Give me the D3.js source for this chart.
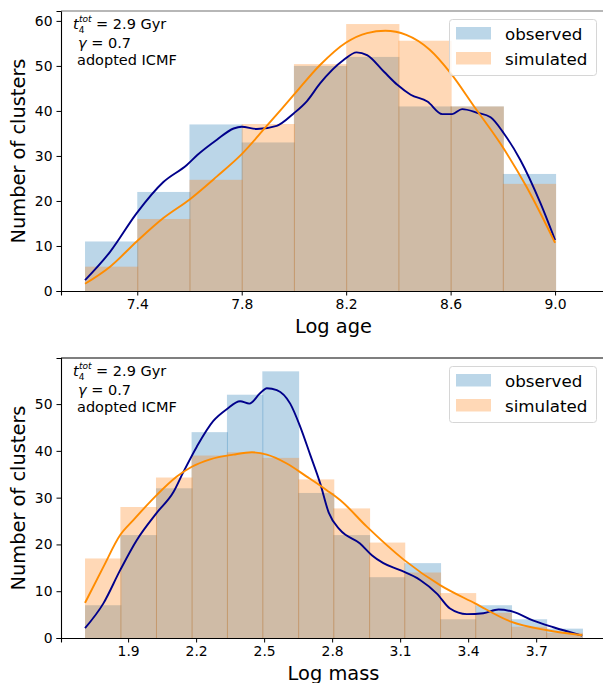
<!DOCTYPE html>
<html>
<head>
<meta charset="utf-8">
<script src="https://cdn.jsdelivr.net/npm/d3@7"></script>
<style>
  body { margin: 0; background: #fff; }
  svg { display: block; font-family: "DejaVu Sans", sans-serif; }
</style>
</head>
<body>
<svg id="chart"></svg>
<script>
// ---- top panel: log age ----
var ageEdges = [7.2, 7.4, 7.6, 7.8, 8.0, 8.2, 8.4, 8.6, 8.8, 9.0]
var ageObserved = [11, 22, 37, 33, 50, 52, 41, 41, 26]
var ageSimulated = [5.4, 16, 24.7, 37.1, 50.4, 59.3, 55.6, 41, 23.8]
var ageKdeObsX = [7.2, 7.296, 7.398, 7.5, 7.59, 7.63, 7.705, 7.769, 7.8, 7.858, 7.934, 8.0, 8.05, 8.1, 8.19, 8.24, 8.28, 8.345, 8.396, 8.447, 8.511, 8.568, 8.606, 8.644, 8.702, 8.753, 8.804, 8.867, 8.944, 9.0]
var ageKdeObsY = [2.4, 8.7, 17.3, 24.2, 28, 30.2, 33.6, 36.1, 36.5, 36, 36.7, 39.5, 42.2, 46.1, 51.3, 53, 52.4, 48.7, 45.8, 43.6, 42.1, 39.3, 39.3, 40.4, 39.6, 38.6, 35, 29.1, 19.5, 11.3]
var ageKdeSimX = [7.2, 7.296, 7.398, 7.5, 7.602, 7.704, 7.8, 7.895, 8.0, 8.1, 8.2, 8.28, 8.35, 8.43, 8.52, 8.6, 8.69, 8.79, 8.89, 9.0]
var ageKdeSimY = [1.6, 5.4, 11, 16.2, 20.4, 25.4, 30.4, 36.6, 43.6, 50.2, 55.2, 57.3, 57.8, 56.9, 53.6, 48.4, 41, 32.8, 23.2, 10.7]
var ageTicks = [7.4, 7.8, 8.2, 8.6, 9.0]
var ageYTicks = [0, 10, 20, 30, 40, 50, 60]

// ---- bottom panel: log mass ----
var massEdges = [1.710, 1.866, 2.023, 2.180, 2.336, 2.492, 2.650, 2.805, 2.963, 3.118, 3.276, 3.431, 3.589, 3.744, 3.902]
var massObserved = [7, 22, 32, 44, 52, 57, 31, 22, 13, 16, 4, 7, 4, 2]
var massSimulated = [17, 28, 34.3, 39, 39.7, 38.5, 33.9, 27.7, 20.4, 14, 9.6, 5.4, 2.4, 1.1]
var massKdeObsX = [1.71, 1.791, 1.865, 1.938, 2.027, 2.1, 2.144, 2.203, 2.276, 2.335, 2.394, 2.435, 2.482, 2.512, 2.556, 2.615, 2.659, 2.703, 2.747, 2.785, 2.835, 2.923, 2.975, 3.026, 3.1, 3.188, 3.262, 3.32, 3.394, 3.467, 3.534, 3.6, 3.688, 3.776, 3.903]
var massKdeObsY = [2.1, 7.4, 14.5, 20.9, 26.8, 31.2, 35.5, 40.9, 46.4, 48.9, 50.6, 50.1, 52.3, 53.4, 53, 50.1, 45.2, 39.2, 33.1, 26.8, 23.1, 20.2, 17.7, 16, 14.5, 12.4, 9.5, 6.3, 5.1, 5.3, 6.1, 5.6, 3.7, 2.3, 0.5]
var massKdeSimX = [1.71, 1.791, 1.865, 1.923, 2.027, 2.115, 2.181, 2.262, 2.364, 2.446, 2.512, 2.6, 2.688, 2.776, 2.835, 2.953, 3.117, 3.276, 3.43, 3.588, 3.743, 3.903]
var massKdeSimY = [7.5, 15.2, 22, 25.2, 30.6, 34.5, 36.6, 38.2, 39.2, 39.7, 39.2, 37.3, 34.5, 31.6, 29.5, 23.8, 16.7, 11.3, 7.4, 3.5, 1.7, 0.6]
var massTicks = [1.9, 2.2, 2.5, 2.8, 3.1, 3.4, 3.7]
var massYTicks = [0, 10, 20, 30, 40, 50]

var seriesNames = ["observed", "simulated"]

var dimensions = {
    width: 603,
    height: 683
}

var svg = d3.select("#chart")
            .attr("width", dimensions.width)
            .attr("height", dimensions.height)

var blue = "#1f77b4", orange = "#ff7f0e"

function drawPanel(p) {
    var g = svg.append("g")

    var xScale = d3.scaleLinear()
                   .domain(p.xDomain)
                   .range([p.left, p.right])
    var yScale = d3.scaleLinear()
                   .domain(p.yDomain)
                   .range([p.bottom, p.top])

    // histograms (observed first, simulated on top)
    var hists = [[p.observed, blue], [p.simulated, orange]]
    hists.forEach(function(h) {
        g.append("g").selectAll("rect")
         .data(h[0])
         .join("rect")
         .attr("x", (d, i) => xScale(p.edges[i]))
         .attr("width", (d, i) => xScale(p.edges[i + 1]) - xScale(p.edges[i]) + 1)
         .attr("y", d => yScale(d))
         .attr("height", d => yScale(0) - yScale(d))
         .style("fill", h[1])
         .style("fill-opacity", 0.3)
    })

    var line = d3.line()
                 .x(d => xScale(d[0]))
                 .y(d => yScale(d[1]))
                 .curve(d3.curveMonotoneX)

    g.append("path")
     .datum(d3.zip(p.kdeObsX, p.kdeObsY))
     .attr("d", line)
     .style("fill", "none")
     .style("stroke", "#00008b")
     .style("stroke-width", 1.9)

    g.append("path")
     .datum(d3.zip(p.kdeSimX, p.kdeSimY))
     .attr("d", line)
     .style("fill", "none")
     .style("stroke", "#ff8c00")
     .style("stroke-width", 1.9)

    // axes
    var xAxisgen = d3.axisBottom(xScale).tickValues(p.xTicks).tickFormat(d3.format(".1f")).tickSizeOuter(0).tickSize(4.5).tickPadding(4)
    var yAxisgen = d3.axisLeft(yScale).tickValues(p.yTicks).tickSizeOuter(0).tickSize(4.5).tickPadding(4)

    var xAxis = g.append("g")
                 .attr("transform", `translate(0,${p.bottom})`)
                 .call(xAxisgen)
    var yAxis = g.append("g")
                 .attr("transform", `translate(${p.left},0)`)
                 .call(yAxisgen)

    ;[xAxis, yAxis].forEach(function(a) {
        a.selectAll("text").style("font-size", "13.9px").style("fill", "#000").style("font-family", "DejaVu Sans")
        a.selectAll("line").style("stroke", "#000").style("stroke-width", 1)
        a.select(".domain").style("stroke", "#000").style("stroke-width", 1.1)
    })

    // top spine
    g.append("line")
     .attr("x1", p.left).attr("x2", p.right)
     .attr("y1", p.top).attr("y2", p.top)
     .style("stroke", p.topColor).style("stroke-width", 1.1)

    // axis labels
    g.append("text")
     .attr("x", (p.left + p.right) / 2)
     .attr("y", p.bottom + 42)
     .attr("text-anchor", "middle")
     .style("font-size", "19.4px")
     .text(p.xLabel)

    g.append("text")
     .attr("transform", `translate(25,${(p.top + p.bottom) / 2}) rotate(-90)`)
     .attr("text-anchor", "middle")
     .style("font-size", "19.4px")
     .text("Number of clusters")

    // annotation
    var ann = g.append("g").style("font-size", "14.5px")
    var t1 = ann.append("text").attr("x", 73).attr("y", p.top + 18)
    t1.append("tspan").style("font-style", "italic").text("t")
    t1.append("tspan").attr("dy", 3.5).style("font-size", "9px").text("4")
    t1.append("tspan").attr("dx", -5.5).attr("dy", -10.5).style("font-size", "9px").style("font-style", "italic").text("tot")
    t1.append("tspan").attr("dy", 7).text(" = 2.9 Gyr")
    var t2 = ann.append("text").attr("x", 78).attr("y", p.top + 36.5)
    t2.append("tspan").style("font-style", "italic").text("γ")
    t2.append("tspan").text(" = 0.7")
    ann.append("text").attr("x", 77).attr("y", p.top + 54).text("adopted ICMF")

    // legend
    var lg = g.append("g").attr("transform", `translate(449,${p.top + 8})`)
    lg.append("rect")
      .attr("x", 0.5).attr("y", 0.5)
      .attr("width", 147).attr("height", 56)
      .attr("rx", 3)
      .style("fill", "#fff").style("fill-opacity", 0.8)
      .style("stroke", "#d6d6d6")
    seriesNames.forEach(function(name, i) {
        lg.append("rect")
          .attr("x", 7).attr("y", 8 + i * 25)
          .attr("width", 35).attr("height", 12.5)
          .style("fill", i == 0 ? blue : orange)
          .style("fill-opacity", 0.3)
        lg.append("text")
          .attr("x", 56).attr("y", 20.5 + i * 25)
          .style("font-size", "16.7px")
          .text(name)
    })
}

drawPanel({
    edges: ageEdges, observed: ageObserved, simulated: ageSimulated,
    kdeObsX: ageKdeObsX, kdeObsY: ageKdeObsY, kdeSimX: ageKdeSimX, kdeSimY: ageKdeSimY,
    xTicks: ageTicks, yTicks: ageYTicks,
    xDomain: [7.108, 9.195], yDomain: [0, 62.2],
    left: 61, right: 606, top: 11, bottom: 291, topColor: "#707070",
    xLabel: "Log age"
})

drawPanel({
    edges: massEdges, observed: massObserved, simulated: massSimulated,
    kdeObsX: massKdeObsX, kdeObsY: massKdeObsY, kdeSimX: massKdeSimX, kdeSimY: massKdeSimY,
    xTicks: massTicks, yTicks: massYTicks,
    xDomain: [1.604, 4.008], yDomain: [0, 59.85],
    left: 61, right: 606, top: 358, bottom: 638, topColor: "#000",
    xLabel: "Log mass"
})
</script>
</body>
</html>
